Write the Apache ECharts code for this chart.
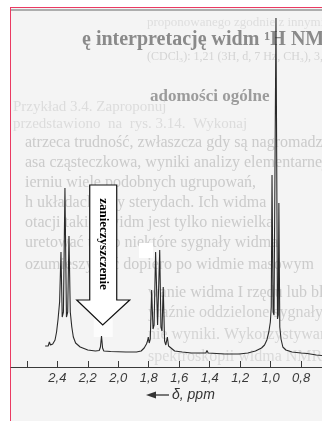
<!DOCTYPE html>
<html lang="pl">
<head>
  <meta charset="UTF-8">
  <title>Widmo 1H NMR</title>
  <script src="https://cdn.jsdelivr.net/npm/echarts@6/dist/echarts.min.js"></script>
  <style>
    html, body { margin: 0; padding: 0; background: #fff; }
    #frame {
      position: absolute; left: 10px; top: 7px; width: 312px; height: 414px;
      border-left: 1.5px solid #ea3a62; border-top: 1.5px solid #ea3a62;
      background: #f4f4f4;
    }
    #chart { position: absolute; left: 0; top: 0; width: 322px; height: 421px; }
  </style>
</head>
<body>
  <div id="frame"></div>
  <div id="chart"></div>
  <script>
    var ppm = [
      2.48, 2.46, 2.452, 2.445, 2.43, 2.415, 2.405, 2.395, 2.385, 2.376, 2.368, 2.36, 2.350, 2.340, 2.332,
      2.3235, 2.315, 2.305, 2.295, 2.28, 2.25, 2.20, 2.15, 2.125, 2.117, 2.110, 2.103, 2.095, 2.05, 1.95,
      1.88, 1.85, 1.83, 1.815, 1.808, 1.803, 1.797, 1.79, 1.781, 1.772, 1.765, 1.755, 1.742, 1.728, 1.72,
      1.713, 1.705, 1.696, 1.688, 1.678, 1.67, 1.66, 1.63, 1.58, 1.52, 1.425, 1.418, 1.41, 1.30, 1.25,
      1.205, 1.201, 1.195, 1.15, 1.10, 1.06, 1.04, 1.025, 1.012, 1.002, 0.996, 0.991, 0.984, 0.978, 0.965,
      0.955, 0.950, 0.946, 0.940, 0.932, 0.92, 0.90, 0.86, 0.80, 0.76, 0.755, 0.75, 0.70, 0.663
    ]
    var intensity = [
      21, 21, 25, 22, 23, 27, 35, 48, 65, 115, 50, 55, 179, 50, 55,
      131, 55, 40, 30, 24, 20, 17, 16, 16.5, 20, 31, 19, 16, 15.5, 15,
      15, 16, 19, 23, 26, 30, 24, 28, 77, 38, 42, 115, 42, 117, 40,
      36, 80, 26, 22, 30, 21, 19, 16, 15, 14, 14, 16.5, 14, 13, 13,
      13, 15, 13, 14, 16, 19, 22, 27, 35, 45, 60, 192, 55, 52, 349,
      48, 52, 164, 40, 28, 20, 17, 15, 14, 13.5, 15, 13, 12, 11.5
    ]
    var tickValues = [2.6, 2.4, 2.2, 2.0, 1.8, 1.6, 1.4, 1.2, 1.0, 0.8]
    var labelValues = [2.4, 2.2, 2.0, 1.8, 1.6, 1.4, 1.2, 1.0, 0.8]

    // przeswitujacy tekst ze skanu
    var bgText = [
      { t: 'proponowanego zgodnie z innymi przesłankami', x: 147, y: 23, f: '13px "Liberation Serif"', c: '#dedede' },
      { t: 'ę interpretację widm ¹H NMR', x: 82, y: 40, f: 'bold 20px "Liberation Serif"', c: '#8a8a8a' },
      { t: '(CDCl₃): 1,21 (3H, d, 7 Hz, CH₃), 3,86 (2H, q,', x: 147, y: 57, f: '12px "Liberation Serif"', c: '#d4d4d4' },
      { t: 'adomości ogólne', x: 150, y: 97, f: 'bold 17px "Liberation Serif"', c: '#9c9c9c' },
      { t: 'Przykład 3.4. Zaproponuj', x: 13, y: 107, f: '15px "Liberation Serif"', c: '#dcdcdc' },
      { t: 'przedstawiono  na  rys. 3.14.  Wykonaj', x: 13, y: 124, f: '15px "Liberation Serif"', c: '#dcdcdc' },
      { t: 'atrzeca trudność, zwłaszcza gdy są nagromadzone', x: 25, y: 143, f: '16px "Liberation Serif"', c: '#cbcbcb' },
      { t: 'asa cząsteczkowa, wyniki analizy elementarnej', x: 25, y: 163, f: '16px "Liberation Serif"', c: '#cbcbcb' },
      { t: 'ierniu wiele podobnych ugrupowań,', x: 25, y: 183, f: '16px "Liberation Serif"', c: '#cbcbcb' },
      { t: 'h układach, czy sterydach. Ich widma', x: 25, y: 203, f: '16px "Liberation Serif"', c: '#cbcbcb' },
      { t: 'otacji takich widm jest tylko niewielka', x: 25, y: 223, f: '16px "Liberation Serif"', c: '#cbcbcb' },
      { t: 'uretować tylko niektóre sygnały widma', x: 25, y: 243, f: '16px "Liberation Serif"', c: '#cbcbcb' },
      { t: 'ozumieszywać dopiero po widmie masowym', x: 25, y: 265, f: '16px "Liberation Serif"', c: '#cbcbcb' },
      { t: 'wanie widma I rzędu lub bliskiego', x: 148, y: 293, f: '16px "Liberation Serif"', c: '#cbcbcb' },
      { t: 'yraźnie oddzielone sygnały widma', x: 148, y: 313, f: '16px "Liberation Serif"', c: '#d0d0d0' },
      { t: 'nie wyniki. Wykorzystywane', x: 148, y: 335, f: '16px "Liberation Serif"', c: '#d4d4d4' },
      { t: 'spektroskopii widma NMR', x: 148, y: 357, f: '16px "Liberation Serif"', c: '#dadada' }
    ]

    var mCharts = echarts.init(document.getElementById('chart'))

    var option = {
      animation: false,
      grid: { left: 11, right: 0, top: 7, bottom: 54 },
      xAxis: {
        type: 'value',
        inverse: true,
        min: 0.663,
        max: 2.704,
        splitLine: { show: false },
        axisLine: { lineStyle: { color: '#3a3a3a', width: 1 } },
        axisTick: { inside: true, length: 6, customValues: tickValues, lineStyle: { color: '#3a3a3a' } },
        axisLabel: {
          customValues: labelValues,
          margin: 5,
          fontStyle: 'italic',
          fontFamily: 'Liberation Sans',
          fontSize: 13,
          color: '#3a3a3a',
          formatter: function (v) { return v.toFixed(1).replace('.', ',') }
        }
      },
      yAxis: { type: 'value', min: 0, max: 360, show: false },
      series: [
        {
          type: 'line',
          symbol: 'none',
          z: 5,
          lineStyle: { color: '#2a2a2a', width: 1.1 },
          data: ppm.map(function (p, i) { return [p, intensity[i]] })
        }
      ]
    }
    mCharts.setOption(option)

    // strzalka "zanieczyszczenie" wskazuje maly pik przy 2,1 ppm
    var tip = mCharts.convertToPixel({ gridIndex: 0 }, [2.102, 42])
    var tx = tip[0], ty = tip[1]

    var elements = bgText.map(function (b) {
      return {
        type: 'text', x: b.x, y: b.y, z: 0, silent: true,
        style: { text: b.t, font: b.f, fill: b.c, verticalAlign: 'middle' }
      }
    })
    elements.push(
      { type: 'line', z: 1, shape: { x1: 11, y1: 10, x2: 322, y2: 10 }, style: { stroke: '#666', lineWidth: 1.2 } },
      { type: 'rect', z: 1, shape: { x: 139, y: 243, width: 14, height: 15 }, style: { fill: '#fff' } },
      { type: 'rect', z: 1, shape: { x: tx - 9, y: ty - 6, width: 19, height: 18 }, style: { fill: '#fcfcfc' } },
      {
        type: 'polygon', z: 10,
        shape: {
          points: [
            [tx - 13, ty - 140], [tx + 14, ty - 140], [tx + 14, ty - 25], [tx + 27, ty - 25],
            [tx, ty], [tx - 26, ty - 25], [tx - 13, ty - 25]
          ]
        },
        style: { fill: '#fff', stroke: '#111', lineWidth: 1.2 }
      },
      {
        type: 'text', z: 11, x: tx + 1, y: ty - 81, rotation: -Math.PI / 2,
        style: {
          text: 'zanieczyszczenie', font: 'bold 13px "Liberation Serif"', fill: '#000',
          align: 'center', verticalAlign: 'middle'
        }
      },
      { type: 'line', z: 10, shape: { x1: 150, y1: 395, x2: 169, y2: 395 }, style: { stroke: '#333', lineWidth: 1.3 } },
      { type: 'polygon', z: 10, shape: { points: [[146, 395], [156, 391.5], [156, 398.5]] }, style: { fill: '#333' } },
      {
        type: 'text', z: 10, x: 172, y: 395,
        style: { text: 'δ, ppm', font: 'italic 14px "Liberation Sans"', fill: '#333', verticalAlign: 'middle' }
      }
    )
    mCharts.setOption({ graphic: { elements: elements } })
  </script>
</body>
</html>
